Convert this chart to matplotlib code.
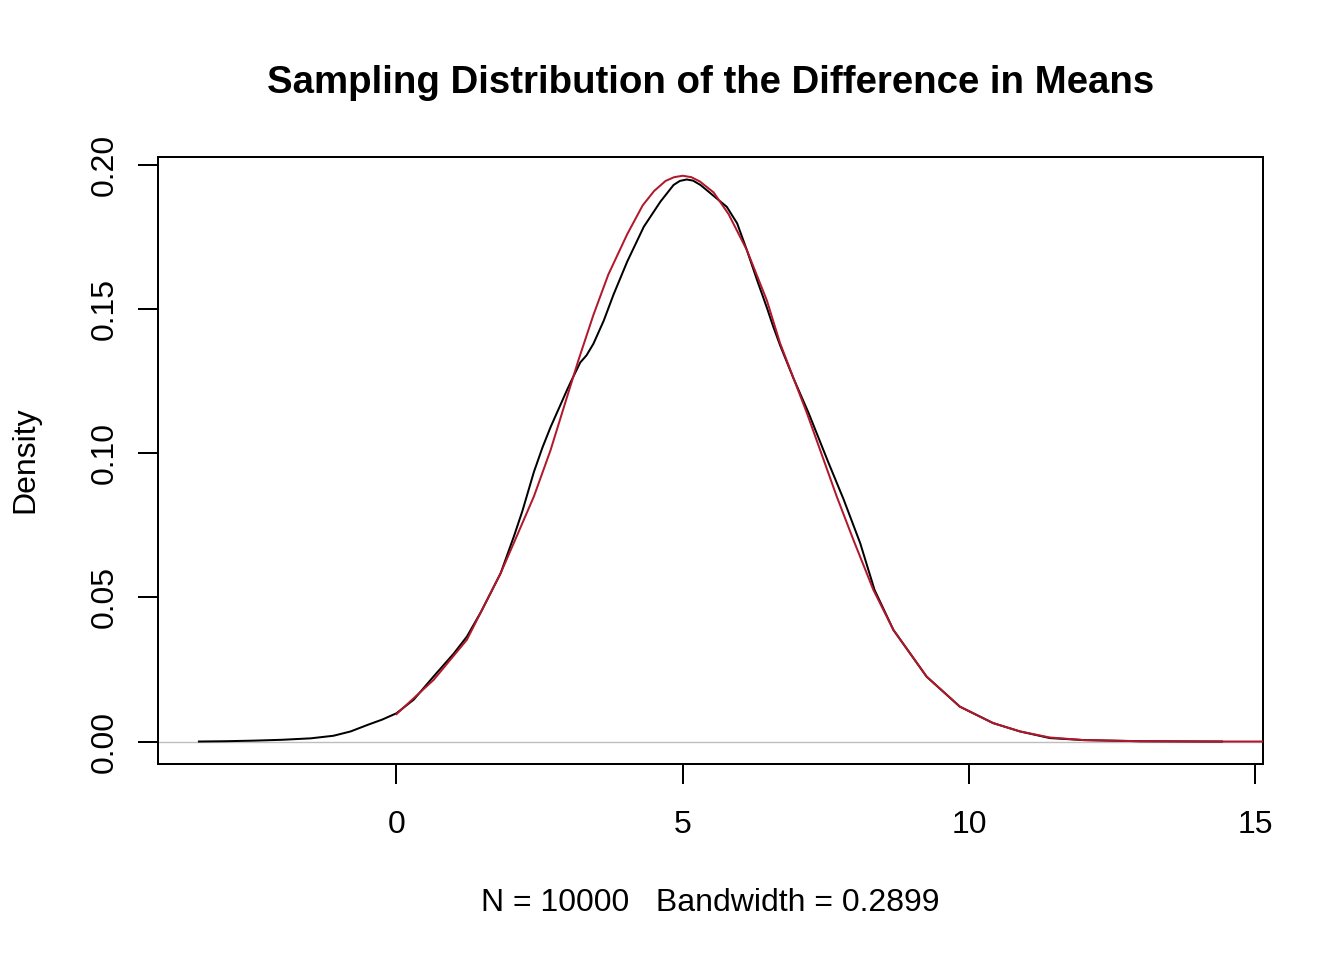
import matplotlib
matplotlib.use("Agg")
import matplotlib.pyplot as plt

# Kernel density estimate of the simulated differences
dens_x = [-3.45, -3.0, -2.5, -2.0, -1.5, -1.1, -0.8, -0.5, -0.25, 0.0,
          0.3, 0.65, 1.0, 1.23, 1.48, 1.82, 2.05, 2.2, 2.4, 2.55,
          2.69, 2.98, 3.06, 3.21, 3.32, 3.44, 3.62, 3.79, 4.03, 4.32,
          4.61, 4.84, 4.95, 5.07, 5.18, 5.31, 5.54, 5.77, 5.95, 6.12,
          6.30, 6.47, 6.58, 6.70, 6.93, 7.20, 7.54, 7.81, 8.10, 8.35,
          8.68, 9.26, 9.84, 10.42, 10.89, 11.41, 12.0, 13.0, 14.42]
dens_y = [0.0, 0.0001, 0.0003, 0.0006, 0.0011, 0.0020, 0.0035, 0.0058, 0.0076, 0.0098,
          0.0145, 0.0226, 0.0305, 0.0364, 0.0451, 0.0584, 0.0711, 0.0800, 0.0935, 0.1020,
          0.1090, 0.1220, 0.1254, 0.1315, 0.1340, 0.1380, 0.1460, 0.1550, 0.1665, 0.1786,
          0.1873, 0.1931, 0.1945, 0.1950, 0.1946, 0.1931, 0.1893, 0.1855, 0.1798, 0.1705,
          0.1600, 0.1505, 0.1440, 0.1375, 0.1262, 0.1139, 0.0970, 0.0840, 0.0688, 0.0526,
          0.0387, 0.0225, 0.0121, 0.0064, 0.0035, 0.0012, 0.0005, 0.0001, 0.0]

# Theoretical normal curve overlaid in red
norm_x = [0.0, 0.65, 1.23, 1.48, 1.82, 2.05, 2.40, 2.69, 2.98, 3.18,
          3.44, 3.7, 4.03, 4.3, 4.5, 4.7, 4.85, 5.0, 5.15, 5.3,
          5.54, 5.8, 6.12, 6.47, 6.70, 7.17, 7.69, 7.98, 8.33, 8.68,
          9.26, 9.84, 10.42, 10.89, 11.41, 12.0, 13.0, 14.0, 15.2]
norm_y = [0.0095, 0.0214, 0.0353, 0.0451, 0.0584, 0.0689, 0.0850, 0.1010, 0.1196, 0.1324,
          0.1480, 0.1620, 0.1760, 0.1860, 0.1910, 0.1945, 0.1958, 0.1963, 0.1958, 0.1943,
          0.1905, 0.1830, 0.1705, 0.1530, 0.1382, 0.1139, 0.0850, 0.0700, 0.0526, 0.0387,
          0.0225, 0.0121, 0.0064, 0.0035, 0.0014, 0.0005, 0.0001, 0.0, 0.0]

x_ticks = [0, 5, 10, 15]
y_ticks = [0.00, 0.05, 0.10, 0.15, 0.20]

title = "Sampling Distribution of the Difference in Means"
sub = "N = 10000   Bandwidth = 0.2899"

plt.rcParams["font.family"] = ["Liberation Sans", "DejaVu Sans"]

fig = plt.figure(figsize=(13.44, 9.6), dpi=100)
ax = fig.add_axes([158 / 1344, 1 - 764 / 960, (1263 - 158) / 1344, (764 - 157) / 960])

# R-style 4% padding around the density range
xr = dens_x[-1] - dens_x[0]
yr = max(dens_y) - min(dens_y)
ax.set_xlim(dens_x[0] - 0.04 * xr, dens_x[-1] + 0.04 * xr)
ax.set_ylim(min(dens_y) - 0.04 * yr, max(dens_y) + 0.04 * yr)

ax.axhline(0, color="#BEBEBE", lw=1.0, zorder=1)
ax.plot(dens_x, dens_y, color="black", lw=1.44, zorder=3, solid_joinstyle="round")
ax.plot(norm_x, norm_y, color="#B2182B", lw=1.44, zorder=4, solid_joinstyle="round")

ax.set_xticks(x_ticks)
ax.set_xticklabels([str(v) for v in x_ticks])
ax.set_yticks(y_ticks)
ax.set_yticklabels(["%.2f" % v for v in y_ticks], rotation=90, va="center")
ax.tick_params(axis="both", length=14.4, width=1.44, labelsize=23)
ax.tick_params(axis="x", pad=19)
ax.tick_params(axis="y", pad=13)
for s in ax.spines.values():
    s.set_linewidth(1.44)

fig.text(710.5 / 1344, 1 - 83 / 960, title, ha="center", va="center",
         fontsize=27.6, fontweight="bold")
fig.text(710.5 / 1344, 1 - 903 / 960, sub, ha="center", va="center", fontsize=23)
fig.text(25 / 1344, 1 - 460 / 960, "Density", ha="center", va="center",
         rotation=90, fontsize=23)

fig.savefig("out.png", dpi=100)
